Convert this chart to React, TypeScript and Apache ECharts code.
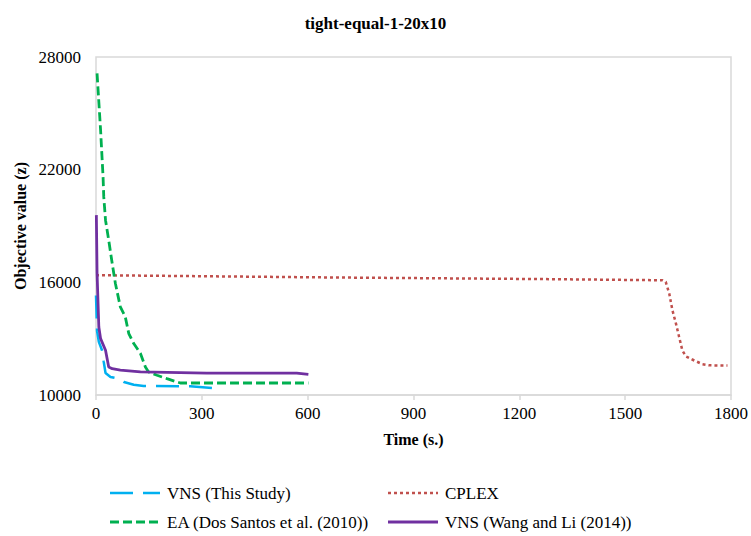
import React, { useEffect, useRef } from "react";
import * as echarts from "echarts";

const xTicks = [0, 300, 600, 900, 1200, 1500, 1800];
const yTicks = [10000, 16000, 22000, 28000];

const vnsName = "VNS (This Study)";
const vnsT = [0, 3, 8, 17, 22, 27, 41, 64, 79, 107, 135, 267, 357];
const vnsV = [15300, 13400, 12830, 12380, 11760, 11170, 10960, 10870, 10690, 10550, 10480, 10460, 10340];

const cplexName = "CPLEX";
const cplexT = [0, 663, 1285, 1606, 1615, 1625, 1634, 1644, 1653, 1662, 1672, 1690, 1719, 1738, 1790];
const cplexV = [16380, 16260, 16170, 16110, 16020, 15400, 14510, 13800, 13090, 12380, 12060, 11890, 11640, 11580, 11570];

const eaName = "EA (Dos Santos et al. (2010))";
const eaT = [3, 13, 20, 22, 27, 36, 46, 55, 69, 83, 93, 107, 126, 140, 149, 173, 201, 239, 602];
const eaV = [27130, 24110, 21620, 20550, 19310, 18250, 17000, 15940, 14690, 14160, 13270, 12740, 12210, 11490, 11230, 11050, 10870, 10640, 10640];

const wlName = "VNS (Wang and Li (2014))";
const wlT = [1, 3, 8, 13, 27, 36, 46, 69, 126, 314, 569, 602];
const wlV = [19580, 16500, 13620, 13000, 12380, 11490, 11400, 11320, 11230, 11170, 11170, 11100];

const zip = (t: number[], v: number[]) => t.map((x, i) => [x, v[i]]);
const BOLD_FONT = "Liberation Serif";
const REG_FONT = "17px 'Liberation Serif', 'Times New Roman', serif";

const seriesDefs = [
  { name: vnsName, t: vnsT, v: vnsV, color: "#00B0F0", width: 2.5, dash: [23, 10] as number[] | null, z: 4 },
  { name: cplexName, t: cplexT, v: cplexV, color: "#C0504D", width: 2.5, dash: [3, 3] as number[] | null, z: 2 },
  { name: eaName, t: eaT, v: eaV, color: "#00B050", width: 2.8, dash: [9, 4] as number[] | null, z: 3 },
  { name: wlName, t: wlT, v: wlV, color: "#7030A0", width: 2.8, dash: null as number[] | null, z: 5 },
];

export default function App() {
  const ref = useRef<HTMLDivElement>(null);
  useEffect(() => {
    if (!ref.current) return;
    const chart = echarts.init(ref.current, undefined, { renderer: "svg" });
    chart.setOption({
      animation: false,
      backgroundColor: "#fff",
      title: {
        text: "tight-equal-1-20x10",
        left: "center",
        top: 10,
        textStyle: { fontFamily: BOLD_FONT, fontSize: 17, fontWeight: "bold", color: "#000" },
      },
      grid: {
        left: 96,
        right: 20,
        top: 57,
        bottom: 141,
        show: true,
        borderColor: "#d9d9d9",
        borderWidth: 1.5,
      },
      xAxis: {
        type: "value",
        min: xTicks[0],
        max: xTicks[xTicks.length - 1],
        interval: 300,
        name: "Time (s.)",
        nameLocation: "middle",
        nameGap: 36,
        nameTextStyle: { fontFamily: BOLD_FONT, fontSize: 16, fontWeight: "bold", color: "#000" },
        axisLine: { show: true, lineStyle: { color: "#d9d9d9", width: 1.5 } },
        axisTick: { show: true, length: 5, lineStyle: { color: "#d9d9d9", width: 1.5 } },
        axisLabel: { show: false },
        splitLine: { show: false },
      },
      yAxis: {
        type: "value",
        min: yTicks[0],
        max: yTicks[yTicks.length - 1],
        interval: 6000,
        name: "Objective value (z)",
        nameLocation: "middle",
        nameGap: 68,
        nameTextStyle: { fontFamily: BOLD_FONT, fontSize: 16, fontWeight: "bold", color: "#000" },
        axisLine: { show: false },
        axisTick: { show: false },
        axisLabel: { show: false },
        splitLine: { show: false },
      },
      series: seriesDefs.map((s) => ({
        name: s.name,
        type: "line",
        data: zip(s.t, s.v),
        symbol: "none",
        color: s.color,
        lineStyle: { color: s.color, width: s.width, type: s.dash || "solid" },
        z: s.z,
      })),
    });

    // tick labels positioned through the axes' own scales
    const toPx = (x: number, y: number) =>
      chart.convertToPixel({ xAxisIndex: 0, yAxisIndex: 0 }, [x, y]) as number[];
    const xLabels = xTicks.map((t) => {
      const p = toPx(t, yTicks[0]);
      return {
        type: "text",
        x: p[0],
        y: p[1] + 18,
        style: { text: String(t), font: REG_FONT, fill: "#000", align: "center", verticalAlign: "middle", legacy: false },
      };
    });
    const yLabels = yTicks.map((v) => {
      const p = toPx(xTicks[0], v);
      return {
        type: "text",
        x: p[0] - 15,
        y: p[1],
        style: { text: String(v), font: REG_FONT, fill: "#000", align: "right", verticalAlign: "middle", legacy: false },
      };
    });
    // legend: two rows, two columns
    const legendPos = [
      [110, 493],
      [388, 493],
      [110, 522],
      [388, 522],
    ];
    const legendItems = seriesDefs.flatMap((s, k) => {
      const [lx, ly] = legendPos[k];
      return [
        {
          type: "line",
          shape: { x1: lx, y1: ly, x2: lx + 50, y2: ly },
          style: { stroke: s.color, lineWidth: s.width, lineDash: s.dash || undefined },
        },
        {
          type: "text",
          x: lx + 57,
          y: ly,
          style: { text: s.name, font: REG_FONT, fill: "#000", align: "left", verticalAlign: "middle", legacy: false },
        },
      ];
    });
    chart.setOption({ graphic: [...xLabels, ...yLabels, ...legendItems] });
    return () => chart.dispose();
  }, []);
  return <div ref={ref} style={{ width: 751, height: 536, position: "absolute", left: 0, top: 0 }} />;
}
